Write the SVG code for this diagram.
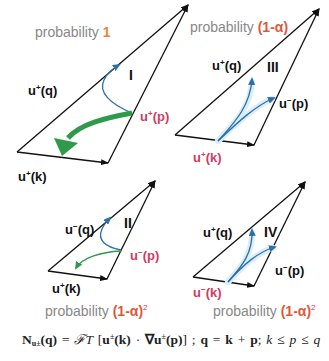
<svg xmlns="http://www.w3.org/2000/svg" width="329" height="361" viewBox="0 0 329 361">
<defs>
<marker id="ah" markerWidth="8" markerHeight="6" refX="7" refY="3" orient="auto" markerUnits="userSpaceOnUse"><path d="M0,0 L8,3 L0,6 z" fill="#111"/></marker>
<marker id="bh" markerWidth="8" markerHeight="7" refX="6" refY="3.5" orient="auto" markerUnits="userSpaceOnUse"><path d="M0,0 L8,3.5 L0,7 z" fill="#2f6ea8"/></marker>
<marker id="gh" markerWidth="8" markerHeight="7" refX="6" refY="3.5" orient="auto" markerUnits="userSpaceOnUse"><path d="M0,0 L8,3.5 L0,7 z" fill="#2e9a4a"/></marker>
<style>
.edge{fill:none;stroke:#111;stroke-width:1.3;marker-end:url(#ah)}
.blue{fill:none;stroke:#2f6ea8;stroke-width:1.3;marker-end:url(#bh)}
.glow{fill:none;stroke:#d8eef9;stroke-width:6;stroke-linecap:round}
.lbl{font-family:"Liberation Sans",Arial,sans-serif;font-size:13px;font-weight:bold;fill:#111}
.red{fill:#d33a5e}
.prob{font-family:"Liberation Sans",Arial,sans-serif;font-size:14px;fill:#888}
.pa{fill:#e0583a;font-weight:bold}
.sup{font-size:8px}
.num{font-family:"Liberation Sans",Arial,sans-serif;font-size:14px;font-weight:bold;fill:#111}
</style>
</defs>
<rect width="329" height="361" fill="#fff"/>

<g id="connectors">
<!-- Triangle I -->
<line class="edge" x1="17" y1="152" x2="108" y2="163"/>
<line class="edge" x1="108" y1="163" x2="188" y2="5"/>
<line class="edge" x1="17" y1="152" x2="188" y2="5"/>
<path class="blue" d="M132,113 C110,104 98,92 104,80 C107,73 112,69 119,65"/>
<path d="M132,113 C105,118 80,124 68,138" fill="none" stroke="#2e9a4a" stroke-width="5"/>
<path d="M54,138 L78,143 L62,156 z" fill="#2e9a4a"/>
<!-- Triangle III -->
<line class="edge" x1="175" y1="135" x2="254" y2="145"/>
<line class="edge" x1="254" y1="145" x2="319" y2="9"/>
<line class="edge" x1="175" y1="135" x2="319" y2="9"/>
<path class="glow" d="M218,141 C232,125 250,110 252,82"/>
<path class="glow" d="M218,141 C238,122 255,106 272,99"/>
<path class="blue" d="M218,141 C232,125 250,108 252,79"/>
<path class="blue" d="M218,141 C238,122 255,106 274,98"/>
<!-- Triangle II -->
<line class="edge" x1="48" y1="271" x2="107" y2="279"/>
<line class="edge" x1="107" y1="279" x2="155" y2="181"/>
<line class="edge" x1="48" y1="271" x2="155" y2="181"/>
<path class="blue" d="M121,250 C105,247 97,240 102,229 C104,224 107,221 110,218"/>
<path d="M121,251 C100,252 82,258 76,268" fill="none" stroke="#2e9a4a" stroke-width="1.3" marker-end="url(#gh)"/>
<!-- Triangle IV -->
<line class="edge" x1="193" y1="277" x2="254" y2="286"/>
<line class="edge" x1="254" y1="286" x2="305" y2="182"/>
<line class="edge" x1="193" y1="277" x2="305" y2="182"/>
<path class="glow" d="M228,282 C240,268 252,256 252,233"/>
<path class="glow" d="M228,282 C244,264 258,252 273,248"/>
<path class="blue" d="M228,282 C240,268 253,255 252,230"/>
<path class="blue" d="M228,282 C244,264 258,252 275,247"/>
</g>

<g id="triangle-I">
<text class="prob" x="35" y="37">probability <tspan class="pa" style="fill:#e8863a">1</tspan></text>
<text class="lbl" x="28" y="95">u<tspan class="sup" dy="-5">+</tspan><tspan dy="5">(q)</tspan></text>
<text class="num" x="129" y="80">I</text>
<text class="lbl red" x="140" y="121">u<tspan class="sup" dy="-5">+</tspan><tspan dy="5">(p)</tspan></text>
<text class="lbl" x="18" y="181">u<tspan class="sup" dy="-5">+</tspan><tspan dy="5">(k)</tspan></text>
</g>

<g id="triangle-III">
<text class="prob" x="190" y="32">probability <tspan class="pa">(1-α)</tspan></text>
<text class="lbl" x="212" y="70">u<tspan class="sup" dy="-5">+</tspan><tspan dy="5">(q)</tspan></text>
<text class="num" x="267" y="72">III</text>
<text class="lbl" x="279" y="108">u<tspan class="sup" dy="-5">−</tspan><tspan dy="5">(p)</tspan></text>
<text class="lbl red" x="193" y="162">u<tspan class="sup" dy="-5">+</tspan><tspan dy="5">(k)</tspan></text>
</g>

<g id="triangle-II">
<text class="lbl" x="65" y="234">u<tspan class="sup" dy="-5">−</tspan><tspan dy="5">(q)</tspan></text>
<text class="num" x="124" y="228">II</text>
<text class="lbl red" x="130" y="260">u<tspan class="sup" dy="-5">−</tspan><tspan dy="5">(p)</tspan></text>
<text class="lbl" x="52" y="293">u<tspan class="sup" dy="-5">+</tspan><tspan dy="5">(k)</tspan></text>
<text class="prob" x="45" y="316">probability <tspan class="pa">(1-α)</tspan><tspan class="sup" dy="-6" style="fill:#d33a5e">2</tspan></text>
</g>

<g id="triangle-IV">
<text class="lbl" x="203" y="237">u<tspan class="sup" dy="-5">+</tspan><tspan dy="5">(q)</tspan></text>
<text class="num" x="264" y="237">IV</text>
<text class="lbl" x="275" y="275">u<tspan class="sup" dy="-5">−</tspan><tspan dy="5">(p)</tspan></text>
<text class="lbl red" x="193" y="297">u<tspan class="sup" dy="-5">−</tspan><tspan dy="5">(k)</tspan></text>
<text class="prob" x="213" y="316">probability <tspan class="pa">(1-α)</tspan><tspan class="sup" dy="-6" style="fill:#d33a5e">2</tspan></text>
</g>

<g id="formula">
<text x="22" y="344" font-family="Liberation Serif, serif" font-size="13.5" word-spacing="1.5" fill="#222"><tspan font-weight="bold">N</tspan><tspan font-size="8" dy="2" font-weight="bold">u±</tspan><tspan dy="-2" font-weight="bold">(q)</tspan> = <tspan font-style="italic">ℱT</tspan> [<tspan font-weight="bold">u</tspan><tspan font-size="8" dy="-5">±</tspan><tspan dy="5" font-weight="bold">(k)</tspan> · <tspan font-weight="bold">∇u</tspan><tspan font-size="8" dy="-5">±</tspan><tspan dy="5" font-weight="bold">(p)</tspan>] ; <tspan font-weight="bold">q</tspan> = <tspan font-weight="bold">k</tspan> + <tspan font-weight="bold">p</tspan>; <tspan font-style="italic">k</tspan> ≤ <tspan font-style="italic">p</tspan> ≤ <tspan font-style="italic">q</tspan></text>
</g>
</svg>
